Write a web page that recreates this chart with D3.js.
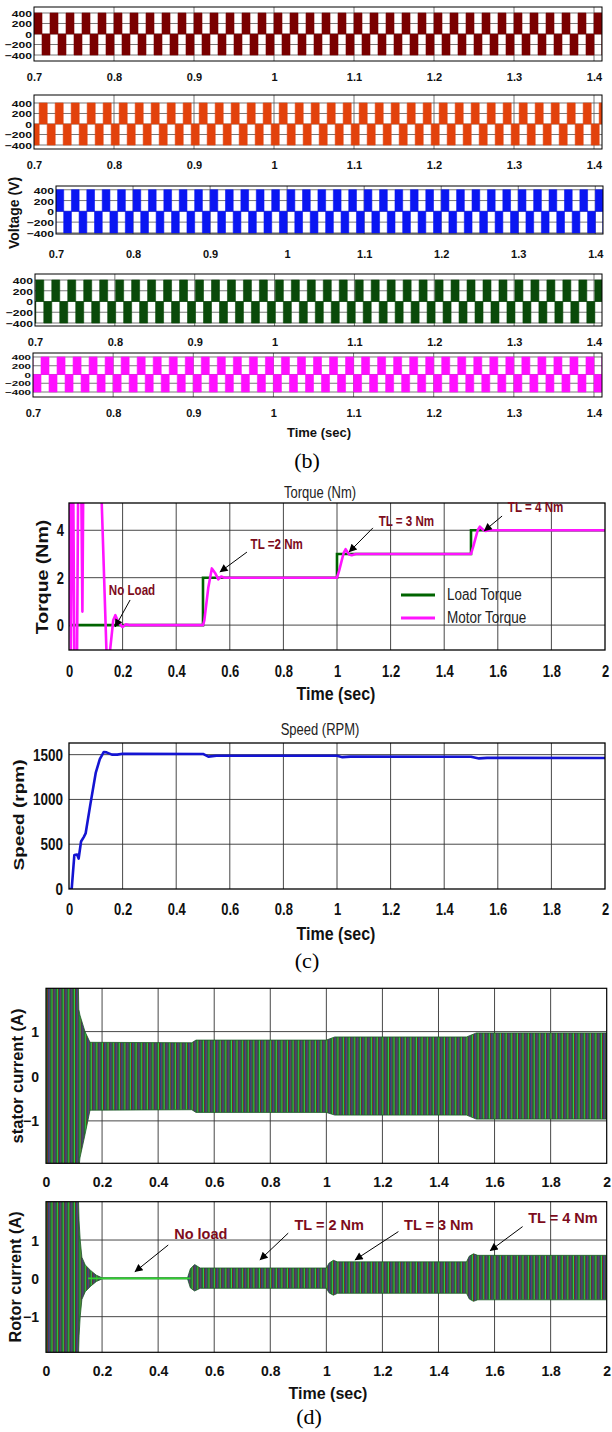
<!DOCTYPE html>
<html><head><meta charset="utf-8">
<script src="https://cdn.jsdelivr.net/npm/d3@7"></script>
<style>body{margin:0;background:#fff}svg{display:block}</style>
</head><body>
<svg id="c" width="612" height="1432"></svg>
<script>
// ================= DATA =================
// (b) inverter phase voltages
const voltXTicks = [0.7, 0.8, 0.9, 1, 1.1, 1.2, 1.3, 1.4];
const voltYTicks = [400, 200, 0, -200, -400];
const voltTimeRange = [0.7, 1.41];
const voltAmplitude = 400;          // V
const voltFrequency = 50;           // Hz
const voltFirstRise = [0.700, 0.7065, 0.700, 0.701, 0.710]; // start of a positive half-cycle, per phase
const voltColors = ["#7a0000", "#e2420c", "#0a16f2", "#0a4a0a", "#ff10ff"];

// (c) torque
const timeTicks = [0, 0.2, 0.4, 0.6, 0.8, 1, 1.2, 1.4, 1.6, 1.8, 2];
const torqueYTicks = [0, 2, 4];
const loadTorqueT = [0, 0.5, 0.5, 1.0, 1.0, 1.5, 1.5, 2.0];
const loadTorqueV = [0, 0, 2, 2, 3, 3, 4, 4];
const motorTorqueT = [0, 0.003, 0.007, 0.011, 0.016, 0.02, 0.03, 0.034, 0.046, 0.05, 0.053, 0.06, 0.115, 0.122, 0.14, 0.152, 0.165, 0.173, 0.185, 0.2, 0.212, 0.225, 0.5, 0.505, 0.52, 0.533, 0.545, 0.557, 0.568, 0.58, 1.0, 1.008, 1.025, 1.032, 1.045, 1.055, 1.07, 1.5, 1.508, 1.525, 1.533, 1.545, 1.555, 1.57, 2.0];
const motorTorqueV = [0, 5.6, -1.3, 5.6, 5.6, -1.3, -1.3, 5.6, 5.6, 0.57, 5.6, 7, 7, 5.2, -1.2, -1.2, 0.2, 0.42, 0.1, -0.08, 0.03, 0, 0, 0.2, 1.6, 2.39, 2.2, 1.93, 2.05, 2.0, 2.0, 2.3, 3.05, 3.2, 2.98, 2.95, 3.0, 3.0, 3.3, 4.0, 4.15, 4.02, 3.97, 4.0, 4.0];
const legendLabels = ["Load Torque", "Motor Torque"];
const torqueNotes = [
  {text: "No Load",   tx: 0.235, ty: 1.48, ax: 0.228, ay: 1.06, hx: 0.172, hy: -0.08},
  {text: "TL =2 Nm",  tx: 0.775, ty: 3.42, ax: 0.664, ay: 3.08, hx: 0.563, hy: 2.24},
  {text: "TL = 3 Nm", tx: 1.259, ty: 4.40, ax: 1.134, ay: 4.10, hx: 1.045, hy: 3.08},
  {text: "TL = 4 Nm", tx: 1.741, ty: 4.98, ax: 1.616, ay: 4.60, hx: 1.549, hy: 3.97}
];

// (c) speed
const speedYTicks = [0, 500, 1000, 1500];
const speedT = [0, 0.01, 0.02, 0.03, 0.036, 0.045, 0.055, 0.062, 0.08, 0.1, 0.115, 0.13, 0.14, 0.16, 0.18, 0.2, 0.5, 0.52, 0.55, 1.0, 1.02, 1.05, 1.5, 1.53, 1.56, 2.0];
const speedV = [0, 0, 380, 385, 340, 530, 580, 620, 950, 1300, 1450, 1530, 1525, 1500, 1500, 1510, 1508, 1478, 1488, 1488, 1472, 1478, 1476, 1458, 1464, 1462];

// (d) currents: envelopes of the oscillating band
const currentYTicks = [-1, 0, 1];
const statorEnvT  = [0, 0.114, 0.117, 0.121, 0.139, 0.157, 0.52, 0.535, 1.0, 1.03, 1.5, 1.535, 2.0];
const statorEnvHi = [2.5, 2.5, 1.5, 1.37, 1.0, 0.76, 0.75, 0.81, 0.81, 0.88, 0.88, 0.97, 0.97];
const statorEnvLo = [-2.5, -2.5, -2.1, -1.83, -1.31, -0.76, -0.75, -0.81, -0.81, -0.87, -0.87, -0.96, -0.96];
const rotorEnvT  = [0, 0.114, 0.118, 0.122, 0.128, 0.14, 0.16, 0.18, 0.2, 0.505, 0.515, 0.53, 0.55, 1.0, 1.01, 1.025, 1.04, 1.5, 1.51, 1.525, 1.54, 2.0];
const rotorEnvHi = [2.5, 2.5, 1.5, 1.0, 0.55, 0.35, 0.2, 0.08, 0.015, 0.015, 0.25, 0.36, 0.27, 0.27, 0.4, 0.47, 0.43, 0.43, 0.58, 0.64, 0.6, 0.6];
const rotorEnvLo = [-2.5, -2.5, -1.5, -1.0, -0.55, -0.35, -0.2, -0.08, -0.015, -0.015, -0.25, -0.33, -0.26, -0.26, -0.38, -0.44, -0.39, -0.39, -0.54, -0.6, -0.56, -0.56];
const rotorNotes = [
  {text: "No load",   tx: 0.552, ty: 1.15, ax: 0.436, ay: 0.87, hx: 0.317, hy: 0.17},
  {text: "TL = 2 Nm", tx: 1.010, ty: 1.39, ax: 0.864, ay: 1.18, hx: 0.763, hy: 0.48},
  {text: "TL = 3 Nm", tx: 1.401, ty: 1.39, ax: 1.257, ay: 1.22, hx: 1.102, hy: 0.48},
  {text: "TL = 4 Nm", tx: 1.844, ty: 1.57, ax: 1.700, ay: 1.35, hx: 1.584, hy: 0.72}
];

// ================= DRAWING =================
const FONT = "'Liberation Sans', Arial, Helvetica, sans-serif";
const SERIF = "'Liberation Serif', 'Times New Roman', serif";
const svg = d3.select("#c");
const defs = svg.append("defs");
const NOTE_COLOR = "#7d0c1c";

defs.append("marker").attr("id", "arr").attr("viewBox", "0 0 10 10")
  .attr("refX", 9.5).attr("refY", 5).attr("markerWidth", 10).attr("markerHeight", 8)
  .attr("markerUnits", "userSpaceOnUse").attr("orient", "auto")
  .append("path").attr("d", "M0,0 L10,5 L0,10 Z").attr("fill", "#000");

function txt(g, x, y, s, o = {}) {
  return g.append("text")
    .attr("transform", `translate(${x},${y}) rotate(${o.rot || 0}) scale(${o.sx || 1},${o.sy || 1})`)
    .attr("text-anchor", o.anchor || "middle")
    .attr("dominant-baseline", o.base || "central")
    .attr("font-family", o.family || FONT)
    .attr("font-weight", o.weight || "bold")
    .attr("font-size", o.size || 12)
    .attr("fill", o.color || "#111")
    .text(s);
}

let clipN = 0;
function makePanel(L, R, T, B, xDom, yDom, xTicks, yTicks, gridColor, gridW) {
  const g = svg.append("g");
  const x = d3.scaleLinear().domain(xDom).range([L, R]);
  const y = d3.scaleLinear().domain(yDom).range([B, T]);
  const id = "clip" + (clipN++);
  defs.append("clipPath").attr("id", id).append("rect")
    .attr("x", L).attr("y", T).attr("width", R - L).attr("height", B - T);
  const grid = g.append("g").attr("stroke", gridColor).attr("stroke-width", gridW);
  grid.selectAll(".v").data(xTicks.filter(v => x(v) > L + 1 && x(v) < R - 1)).join("line")
    .attr("x1", d => x(d)).attr("x2", d => x(d)).attr("y1", T).attr("y2", B);
  grid.selectAll(".h").data(yTicks.filter(v => y(v) > T + 1 && y(v) < B - 1)).join("line")
    .attr("y1", d => y(d)).attr("y2", d => y(d)).attr("x1", L).attr("x2", R);
  const data = g.append("g").attr("clip-path", `url(#${id})`);
  const top = g.append("g");
  return {g, x, y, data, top, L, R, T, B};
}
function frame(p, w) {
  p.top.append("rect").attr("x", p.L).attr("y", p.T).attr("width", p.R - p.L).attr("height", p.B - p.T)
    .attr("fill", "none").attr("stroke", "#000").attr("stroke-width", w);
}
function styleAxisText(a, size, sx, sy, anchor) {
  a.select(".domain").remove();
  a.selectAll(".tick line").remove();
  a.selectAll("text").attr("x", 0).attr("y", 0).attr("dy", null)
    .attr("dominant-baseline", "central").attr("text-anchor", anchor)
    .attr("font-family", FONT).attr("font-weight", "bold").attr("font-size", size).attr("fill", "#111")
    .attr("transform", `scale(${sx},${sy})`);
}
function xAxis(p, ticks, yPos, size, sy) {
  const a = p.g.append("g").attr("transform", `translate(0,${yPos})`)
    .call(d3.axisBottom(p.x).tickValues(ticks).tickSize(0).tickFormat(d3.format("")));
  styleAxisText(a, size, 1, sy, "middle");
}
function yAxis(p, ticks, xPos, size, sx, sy) {
  const a = p.g.append("g").attr("transform", `translate(${xPos},0)`)
    .call(d3.axisLeft(p.y).tickValues(ticks).tickSize(0).tickFormat(d3.format("")));
  styleAxisText(a, size, sx, sy, "end");
}

// ---------- (b) voltages ----------
const vLayout = [
  {L: 34, R: 602, T: 7,   B: 61,  y0: -514, y1: 514, lab: 77,  fs: 11,  sy: 0.85},
  {L: 34, R: 602, T: 95,  B: 149, y0: -476, y1: 552, lab: 165, fs: 11,  sy: 0.85},
  {L: 56, R: 603, T: 186, B: 234, y0: -420, y1: 470, lab: 254, fs: 11,  sy: 0.85},
  {L: 35, R: 602, T: 274, B: 326, y0: -456, y1: 512, lab: 342, fs: 11,  sy: 0.85},
  {L: 33, R: 602, T: 353, B: 397, y0: -514, y1: 491, lab: 413, fs: 10.5, sy: 0.72}
];
function squareWave(firstRise) {
  const half = 0.5 / voltFrequency;
  const n0 = Math.floor((voltTimeRange[0] - firstRise) / half) - 1;
  const n1 = Math.ceil((voltTimeRange[1] - firstRise) / half) + 1;
  return d3.range(n0, n1).map(k => ({t: firstRise + k * half, v: (((k % 2) + 2) % 2 === 0 ? 1 : -1) * voltAmplitude}));
}
vLayout.forEach((lay, i) => {
  const p = makePanel(lay.L, lay.R, lay.T, lay.B, voltTimeRange, [lay.y0, lay.y1], voltXTicks, voltYTicks, "#555", 0.8);
  const area = d3.area().curve(d3.curveStepAfter).x(d => p.x(d.t)).y0(p.y(0)).y1(d => p.y(d.v));
  p.data.append("path").datum(squareWave(voltFirstRise[i])).attr("d", area)
    .attr("fill", voltColors[i]).attr("stroke", voltColors[i]).attr("stroke-width", 0.6);
  frame(p, 1);
  yAxis(p, voltYTicks, lay.L - 2, lay.fs, 1.1, lay.sy);
  xAxis(p, voltXTicks, lay.lab, 11, 1);
});
txt(svg, 14, 213, "Voltage (V)", {rot: -90, size: 14});
txt(svg, 319, 432, "Time (sec)", {size: 13});
txt(svg, 307, 468, "(b)", {family: SERIF, weight: "normal", size: 22, base: "auto", color: "#000"});

// ---------- (c) torque ----------
const SY = 1.2;
const tq = makePanel(69, 605, 503, 650, [0, 2], [-1.05, 5.15], timeTicks, torqueYTicks, "#333", 0.9);
const line = (p, T, V) => d3.line().x((d, i) => p.x(T[i])).y((d, i) => p.y(V[i]))(T);
tq.data.append("path").attr("d", line(tq, loadTorqueT, loadTorqueV))
  .attr("fill", "none").attr("stroke", "#006400").attr("stroke-width", 2.6);
tq.data.append("path").attr("d", line(tq, motorTorqueT, motorTorqueV))
  .attr("fill", "none").attr("stroke", "#ff14ff").attr("stroke-width", 2.6).attr("stroke-linejoin", "round");
frame(tq, 1.3);
const lg = tq.top.append("g");
[["#006400", 0], ["#ff14ff", 1]].forEach(([c, i]) => {
  const yy = 595 + i * 23;
  lg.append("line").attr("x1", 401).attr("x2", 435).attr("y1", yy).attr("y2", yy).attr("stroke", c).attr("stroke-width", 3);
  txt(lg, 447, yy, legendLabels[i], {anchor: "start", weight: "normal", size: 13.5, sy: SY, color: "#222"});
});
torqueNotes.forEach(n => {
  tq.top.append("line").attr("x1", tq.x(n.ax)).attr("y1", tq.y(n.ay)).attr("x2", tq.x(n.hx)).attr("y2", tq.y(n.hy))
    .attr("stroke", "#000").attr("stroke-width", 1).attr("marker-end", "url(#arr)");
  txt(tq.top, tq.x(n.tx), tq.y(n.ty), n.text, {size: 11.6, sy: SY, color: NOTE_COLOR});
});
yAxis(tq, torqueYTicks, 64, 13, 1, SY);
xAxis(tq, timeTicks, 672, 13, SY);
txt(svg, 320, 493, "Torque (Nm)", {weight: "normal", size: 13, sy: SY, color: "#222"});
txt(svg, 43, 577, "Torque (Nm)", {rot: -90, size: 16, sx: 1.22});
txt(svg, 336, 694, "Time (sec)", {size: 16, sy: 1.15});

// ---------- (c) speed ----------
const sp = makePanel(69, 605, 743, 889, [0, 2], [0, 1630], timeTicks, speedYTicks, "#333", 0.9);
sp.data.append("path").attr("d", line(sp, speedT, speedV))
  .attr("fill", "none").attr("stroke", "#1414d2").attr("stroke-width", 2.6).attr("stroke-linejoin", "round");
frame(sp, 1.3);
yAxis(sp, speedYTicks, 63, 13.5, 1, SY);
xAxis(sp, timeTicks, 910, 13, SY);
txt(svg, 320, 730, "Speed (RPM)", {weight: "normal", size: 13, sy: SY, color: "#222"});
txt(svg, 19, 815, "Speed (rpm)", {rot: -90, size: 15, sx: 1.27});
txt(svg, 336, 934, "Time (sec)", {size: 16, sy: 1.15});
txt(svg, 307, 968, "(c)", {family: SERIF, weight: "normal", size: 22, base: "auto", color: "#000"});

// ---------- (d) currents ----------
function curPattern(id, x0, w) {
  const pat = defs.append("pattern").attr("id", id).attr("patternUnits", "userSpaceOnUse")
    .attr("x", x0).attr("y", 0).attr("width", w).attr("height", 50);
  pat.append("rect").attr("width", w).attr("height", 50).attr("fill", "#1c4220");
  [[0, "#34e44e", 0.8], [1.15, "#8e2c16", 0.7], [2.25, "#2c44c8", 0.65], [3.35, "#c43cc4", 0.6], [4.45, "#1a9a36", 0.8]]
    .forEach(([o, c, sw]) => pat.append("rect").attr("x", o * w / 5.6).attr("width", sw).attr("height", 50).attr("fill", c));
}
function currentPanel(T, B, yDom, envT, envHi, envLo, patId) {
  const p = makePanel(46, 606.7, T, B, [0, 2], yDom, timeTicks, currentYTicks, "#333", 0.9);
  curPattern(patId, p.x(0), p.x(0.02) - p.x(0));
  const area = d3.area().x((d, i) => p.x(envT[i])).y0((d, i) => p.y(envLo[i])).y1((d, i) => p.y(envHi[i]));
  p.data.append("path").attr("d", area(envT)).attr("fill", `url(#${patId})`)
    .attr("stroke", "#1a5a26").attr("stroke-width", 0.8);
  return p;
}
const st = currentPanel(988.3, 1163.3, [-1.95, 1.97], statorEnvT, statorEnvHi, statorEnvLo, "patS");
frame(st, 1.2);
yAxis(st, currentYTicks, 39, 14, 1, 1);
xAxis(st, timeTicks, 1182, 14, 1);
txt(svg, 17, 1076, "stator current (A)", {rot: -90, size: 16.5});

const rt = currentPanel(1201.7, 1352.3, [-1.93, 2.0], rotorEnvT, rotorEnvHi, rotorEnvLo, "patR");
rt.data.append("line").attr("x1", rt.x(0.15)).attr("x2", rt.x(0.515)).attr("y1", rt.y(0)).attr("y2", rt.y(0))
  .attr("stroke", "#30d030").attr("stroke-width", 1.6);
frame(rt, 1.2);
rotorNotes.forEach(n => {
  rt.top.append("line").attr("x1", rt.x(n.ax)).attr("y1", rt.y(n.ay)).attr("x2", rt.x(n.hx)).attr("y2", rt.y(n.hy))
    .attr("stroke", "#000").attr("stroke-width", 1).attr("marker-end", "url(#arr)");
  txt(rt.top, rt.x(n.tx), rt.y(n.ty), n.text, {size: 14.5, color: NOTE_COLOR});
});
yAxis(rt, currentYTicks, 39, 14, 1, 1);
xAxis(rt, timeTicks, 1371, 14, 1);
txt(svg, 15, 1277, "Rotor current (A)", {rot: -90, size: 16.3});
txt(svg, 328, 1393, "Time (sec)", {size: 16});
txt(svg, 309, 1424, "(d)", {family: SERIF, weight: "normal", size: 22, base: "auto", color: "#000"});
</script>
</body></html>
